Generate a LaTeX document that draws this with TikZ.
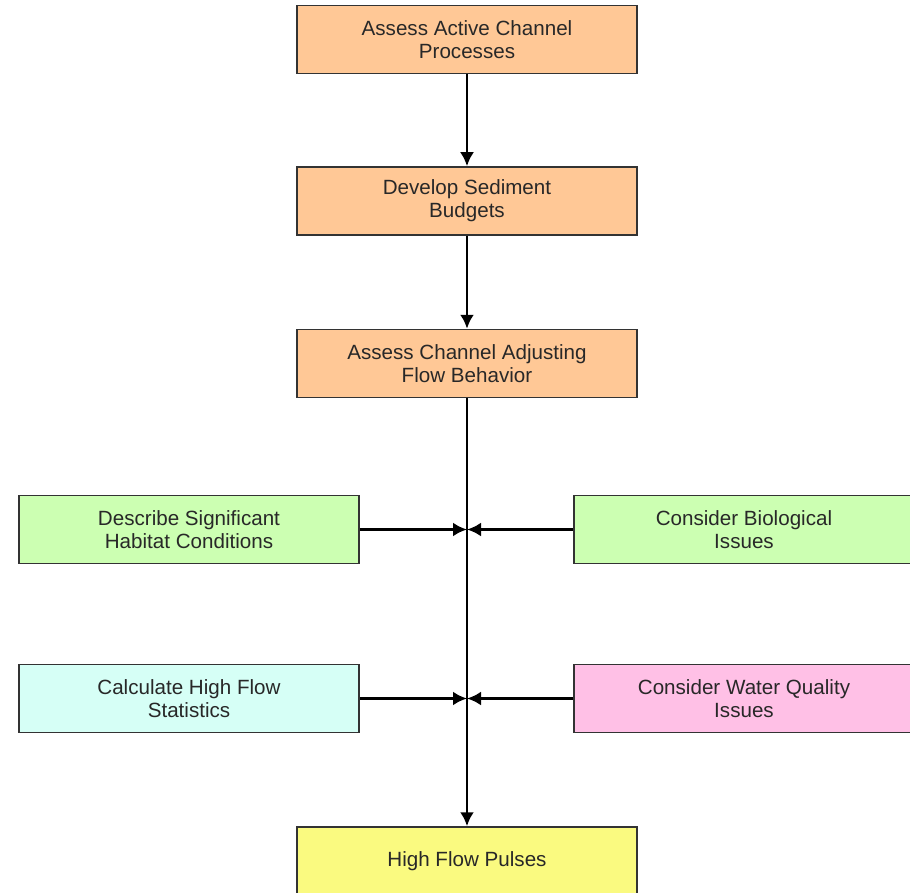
\documentclass[tikz,border=0pt]{standalone}
\usepackage{fontspec}
\setmainfont{Liberation Sans}
\usetikzlibrary{arrows.meta}
\definecolor{steporange}{RGB}{255,200,150}
\definecolor{stepgreen}{RGB}{204,255,178}
\definecolor{stepcyan}{RGB}{214,255,246}
\definecolor{steppink}{RGB}{255,192,230}
\definecolor{stepyellow}{RGB}{250,250,128}
\definecolor{textgray}{RGB}{40,40,40}
\tikzset{
  flowbox/.style={draw=black!80, line width=0.75pt, minimum width=170pt, minimum height=34pt,
    inner sep=0pt, align=center, text=textgray, font=\fontsize{10.3pt}{11.5pt}\selectfont},
  flowline/.style={line width=1.4pt, -{Latex[length=7pt,width=7pt]}}
}

\begin{document}
\begin{tikzpicture}[x=0.5pt,y=-0.5pt]
\useasboundingbox (0,0) rectangle (910,893);
% main column
\node[flowbox, fill=steporange] (active) at (467,39.5) {Assess Active Channel\\Processes};
\node[flowbox, fill=steporange] (budget) at (467,201) {Develop Sediment\\Budgets};
\node[flowbox, fill=steporange] (adjust) at (467,363.5) {Assess Channel Adjusting\\Flow Behavior};
\node[flowbox, fill=stepyellow] (pulses) at (467,861) {High Flow Pulses};
% side inputs
\node[flowbox, fill=stepgreen] (habitat) at (189,529.5) {Describe Significant\\Habitat Conditions};
\node[flowbox, fill=stepgreen] (bio) at (744,529.5) {Consider Biological\\Issues};
\node[flowbox, fill=stepcyan] (stats) at (189,698.5) {Calculate High Flow\\Statistics};
\node[flowbox, fill=steppink] (quality) at (744,698.5) {Consider Water Quality\\Issues};
\coordinate (joinA) at (467,529.5);
\coordinate (joinB) at (467,698.5);
% connectors
\draw[flowline] (active) -- (budget);
\draw[flowline] (budget) -- (adjust);
\draw[flowline] (adjust) -- (pulses);
\draw[flowline] (habitat) -- (joinA);
\draw[flowline] (bio) -- (joinA);
\draw[flowline] (stats) -- (joinB);
\draw[flowline] (quality) -- (joinB);
\end{tikzpicture}
\end{document}
